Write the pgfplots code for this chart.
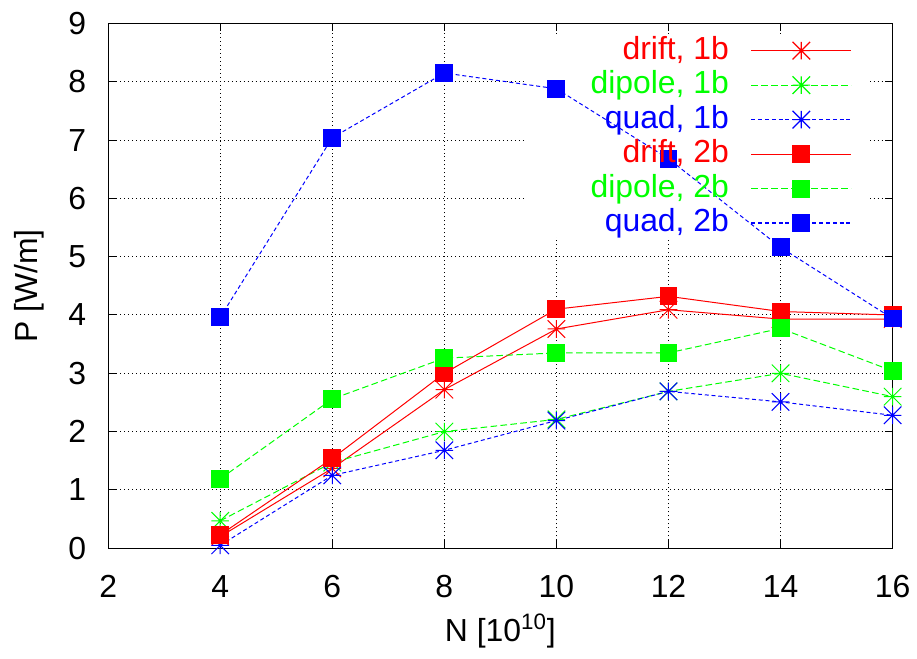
\documentclass[border=0pt]{standalone}
\usepackage{pgfplots}
\usepackage{pgfplotstable}
\pgfplotsset{compat=1.18}
\usepackage{fontspec}
\setmainfont{Liberation Sans}

% eight-armed star: a plus and a cross on top of each other
\pgfdeclareplotmark{gpstar}{%
  \pgfpathmoveto{\pgfqpoint{-\pgfplotmarksize}{0pt}}%
  \pgfpathlineto{\pgfqpoint{\pgfplotmarksize}{0pt}}%
  \pgfpathmoveto{\pgfqpoint{0pt}{-\pgfplotmarksize}}%
  \pgfpathlineto{\pgfqpoint{0pt}{\pgfplotmarksize}}%
  \pgfpathmoveto{\pgfqpoint{-\pgfplotmarksize}{-\pgfplotmarksize}}%
  \pgfpathlineto{\pgfqpoint{\pgfplotmarksize}{\pgfplotmarksize}}%
  \pgfpathmoveto{\pgfqpoint{-\pgfplotmarksize}{\pgfplotmarksize}}%
  \pgfpathlineto{\pgfqpoint{\pgfplotmarksize}{-\pgfplotmarksize}}%
  \pgfusepathqstroke}

\pgfplotstableread{
N  drift1 dipole1 quad1 drift2 dipole2 quad2
4  0.20   0.47    0.05  0.23   1.19    3.96
6  1.37   1.47    1.25  1.54   2.56    7.04
8  2.72   2.00    1.68  3.00   3.26    8.15
10 3.76   2.21    2.19  4.10   3.35    7.88
12 4.09   2.69    2.69  4.32   3.35    6.68
14 3.93   3.00    2.51  4.06   3.77    5.16
16 3.93   2.60    2.28  4.00   3.04    3.94
}\powertable

\tikzset{
  gpdash/.style={dash pattern=on 3.3pt off 1.7pt},
  gpdot/.style={dash pattern=on 2pt off 1.4pt},
}

\begin{document}
\begin{tikzpicture}[font=\fontsize{16}{19}\selectfont]
\begin{axis}[
  scale only axis,
  width=393.5pt, height=263.25pt,
  xmin=2, xmax=16, ymin=0, ymax=9,
  xtick={2,4,...,16}, ytick={0,1,...,9},
  tick align=inside,
  major tick length=4pt,
  tick style={black, line width=0.5pt},
  axis line style={black, line width=0.6pt},
  grid=major,
  major grid style={black, line width=0.5pt, dash pattern=on 0.5pt off 1.5pt},
  /pgf/number format/assume math mode=true,
  xticklabel style={yshift=-10pt},
  yticklabel style={xshift=-7.5pt},
  xlabel={N [10\textsuperscript{10}]},
  ylabel={P [W/m]},
  xlabel style={at={(axis description cs:0.5,-0.158)}, anchor=center},
  ylabel style={at={(axis description cs:-0.1,0.5)}, anchor=center},
  legend plot pos=right,
  legend cell align=right,
  legend image code/.code={%
    \draw[mark repeat=2, mark phase=2, #1, line width=0.6pt]
      plot coordinates {(0pt,0pt) (25pt,0pt) (50pt,0pt)};},
  legend style={at={(axis description cs:1,1)}, anchor=north east,
    xshift=-20.5pt, yshift=-6.4pt, draw=none, fill=none,
    inner sep=0pt, outer sep=0pt, row sep=2.8pt, column sep=11pt,
    nodes={inner sep=0pt, text height=11.5pt, text depth=3pt}},
  every axis plot/.append style={line width=0.5pt},
]
% key area blanks out the grid behind it
\fill[white] (axis cs:9.45,5.33) rectangle (axis cs:15.6,8.82);

\addplot[red, mark=gpstar, mark size=4.4pt, mark options={solid}]
  table[x=N, y=drift1] {\powertable};
\addlegendentry{\textcolor{red}{drift, 1b}}
\addplot[green, gpdash, mark=gpstar, mark size=4.4pt, mark options={solid}]
  table[x=N, y=dipole1] {\powertable};
\addlegendentry{\textcolor{green}{dipole, 1b}}
\addplot[blue, gpdot, mark=gpstar, mark size=4.4pt, mark options={solid}]
  table[x=N, y=quad1] {\powertable};
\addlegendentry{\textcolor{blue}{quad, 1b}}
\addplot[red, mark=square*, mark size=4.25pt, mark options={solid, draw=none, fill=red}]
  table[x=N, y=drift2] {\powertable};
\addlegendentry{\textcolor{red}{drift, 2b}}
\addplot[green, gpdash, mark=square*, mark size=4.25pt, mark options={solid, draw=none, fill=green}]
  table[x=N, y=dipole2] {\powertable};
\addlegendentry{\textcolor{green}{dipole, 2b}}
\addplot[blue, gpdot, mark=square*, mark size=4.25pt, mark options={solid, draw=none, fill=blue}]
  table[x=N, y=quad2] {\powertable};
\addlegendentry{\textcolor{blue}{quad, 2b}}
\end{axis}
\path[use as bounding box] (-54.25pt,-55.5pt) rectangle (404.25pt,275pt);
\end{tikzpicture}
\end{document}
